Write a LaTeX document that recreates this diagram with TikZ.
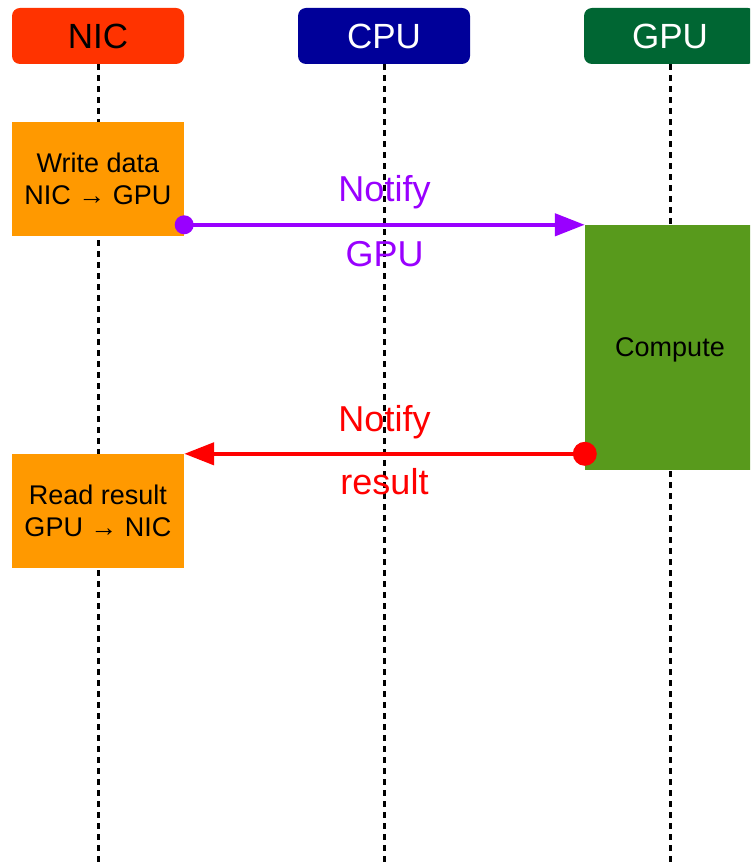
\documentclass[tikz,border=0pt]{standalone}
\usepackage{fontspec}
\setmainfont{Liberation Sans}
\usetikzlibrary{arrows.meta,backgrounds}
\definecolor{nicred}{HTML}{FF3300}
\definecolor{cpublue}{HTML}{000099}
\definecolor{gpugreen}{HTML}{006633}
\definecolor{taskorange}{HTML}{FF9900}
\definecolor{computegreen}{HTML}{589A1C}
\definecolor{notifypurple}{HTML}{9900FF}
\definecolor{notifyred}{HTML}{FF0000}
\tikzstyle{head} = [rectangle, rounded corners=8pt, minimum width=172pt, minimum height=56pt, inner sep=0pt, node distance=286pt, font=\fontsize{35}{35}\selectfont]
\tikzstyle{task} = [rectangle, fill=taskorange, minimum width=172pt, minimum height=114pt, inner sep=0pt, align=center, font=\fontsize{27}{32}\selectfont]
\tikzstyle{life} = [draw, line width=3pt, dash pattern=on 6pt off 5pt]
\tikzstyle{msg} = [line width=4.5pt, -{Triangle[length=30pt,width=22pt]}]
\tikzstyle{note} = [anchor=base, font=\fontsize{36}{36}\selectfont]

\begin{document}
\begin{tikzpicture}[x=1pt, y=-1pt]
	\useasboundingbox (0,0) rectangle (750,866);
	\clip (0,0) rectangle (750,866);
	% lanes
	\node [head, fill=nicred, text=black] (nic) at (98,36) {NIC};
	\node [head, fill=cpublue, text=white, right of=nic] (cpu) {CPU};
	\node [head, fill=gpugreen, text=white, right of=cpu] (gpu) {GPU};
	\coordinate (nicend) at (nic |- 0,866);
	\coordinate (cpuend) at (cpu |- 0,866);
	\coordinate (gpuend) at (gpu |- 0,866);
	% work on each side
	\node [task, below of=nic, node distance=143pt] (write) {Write data\\NIC → GPU};
	\node [task, below of=write, node distance=332pt] (read) {Read result\\GPU → NIC};
	\node [rectangle, fill=computegreen, minimum width=170pt, minimum height=245pt, inner sep=0pt, text depth=0pt, below of=gpu, node distance=311.5pt, font=\fontsize{27}{32}\selectfont] (compute) {Compute};
	\begin{scope}[on background layer]
		\path [life] (nic.south) -- (nicend);
		\path [life] (cpu.south) -- (cpuend);
		\path [life] (gpu.south) -- (gpuend);
	\end{scope}
	% notifications
	\coordinate (wout) at (write.east |- compute.north);
	\draw [msg, notifypurple] (wout) -- (compute.north west)
		node [note, midway, yshift=23pt] {Notify}
		node [note, midway, yshift=-42pt] {GPU};
	\fill [notifypurple] (wout) circle (9.5pt);
	\coordinate (cout) at (compute.west |- read.north);
	\draw [msg, notifyred] (cout) -- (read.north east)
		node [note, midway, yshift=22pt] {Notify}
		node [note, midway, yshift=-41pt] {result};
	\fill [notifyred] (cout) circle (12pt);
\end{tikzpicture}
\end{document}
